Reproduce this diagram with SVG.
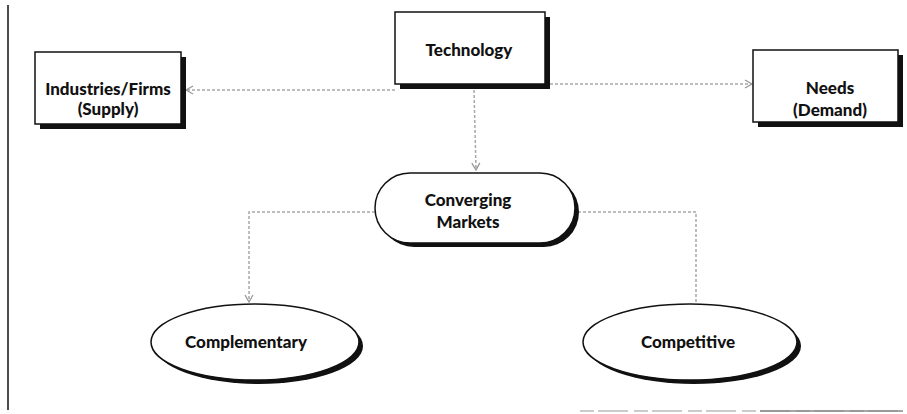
<svg xmlns="http://www.w3.org/2000/svg" width="907" height="414" viewBox="0 0 907 414">
<defs>
<style>
.box{fill:#fff;stroke:#111;stroke-width:1.5}
.sh{fill:#111}
.t{font-family:Lato,"Open Sans","Liberation Sans",sans-serif;font-weight:900;font-size:17px;fill:#111;text-anchor:middle}
.c{fill:none;stroke:#a8a8a8;stroke-width:1.5;stroke-dasharray:3 2}
</style>
<marker id="ah" markerWidth="10" markerHeight="10" refX="8" refY="5" orient="auto" markerUnits="userSpaceOnUse">
<path d="M1,1 L8,5 L1,9" fill="none" stroke="#999" stroke-width="1.3"/>
</marker>
</defs>
<rect width="907" height="414" fill="#fff"/>
<line x1="8" y1="5" x2="8" y2="410" stroke="#111" stroke-width="1.5"/>
<line x1="580" y1="411" x2="903" y2="411" stroke="#bbb" stroke-width="1.5" stroke-dasharray="14 4 30 6"/>
<line x1="760" y1="411" x2="903" y2="411" stroke="#888" stroke-width="1.5"/>

<g id="connectors">
<path class="c" d="M395,90 L186,90" marker-end="url(#ah)"/>
<path class="c" d="M545,84 L752,84" marker-end="url(#ah)"/>
<path class="c" d="M474,90 L476,170" marker-end="url(#ah)"/>
<path class="c" d="M375,212 L249,212 L249,302" marker-end="url(#ah)"/>
<path class="c" d="M578,212 L696,212 L696,303"/>
</g>

<g id="industries">
<rect class="sh" x="40" y="57" width="146" height="72"/>
<rect class="box" x="35" y="52" width="146" height="72"/>
<text class="t" x="108" y="95">Industries/Firms</text>
<text class="t" x="108" y="115">(Supply)</text>
</g>

<g id="technology">
<rect class="sh" x="400" y="17" width="150" height="72"/>
<rect class="box" x="395" y="12" width="150" height="72"/>
<text class="t" x="469" y="56">Technology</text>
</g>

<g id="needs">
<rect class="sh" x="758" y="55" width="145" height="72"/>
<rect class="box" x="753" y="50" width="145" height="72"/>
<text class="t" x="830" y="94">Needs</text>
<text class="t" x="830" y="116">(Demand)</text>
</g>

<g id="converging">
<rect class="sh" x="379" y="177" width="200" height="70" rx="35"/>
<rect class="box" x="375" y="173" width="200" height="70" rx="35"/>
<text class="t" x="468" y="206">Converging</text>
<text class="t" x="468" y="228">Markets</text>
</g>

<g id="complementary">
<ellipse class="sh" cx="259" cy="346" rx="104" ry="38"/>
<ellipse class="box" cx="255" cy="342" rx="104" ry="38"/>
<text class="t" x="246" y="348">Complementary</text>
</g>

<g id="competitive">
<ellipse class="sh" cx="694" cy="346" rx="107" ry="38"/>
<ellipse class="box" cx="690" cy="342" rx="107" ry="38"/>
<text class="t" x="688" y="348">Competitive</text>
</g>
</svg>
